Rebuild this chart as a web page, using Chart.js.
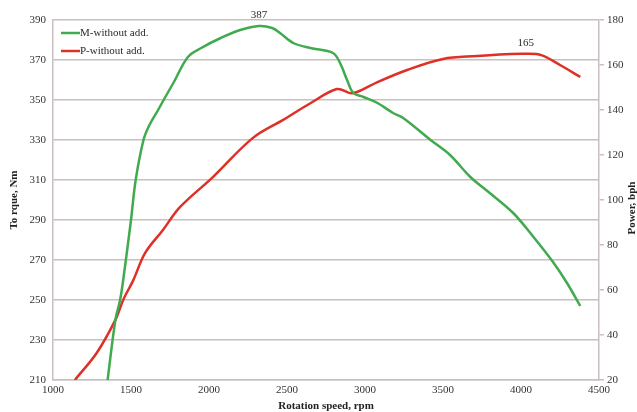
<!DOCTYPE html>
<html>
<head>
<meta charset="utf-8">
<style>
  html, body { margin: 0; padding: 0; background: #ffffff; }
  #wrap { width: 637px; height: 412px; position: relative; }
</style>
<script src="https://cdn.jsdelivr.net/npm/chart.js@4/dist/chart.umd.min.js"></script>
</head>
<body>
<div id="wrap"><canvas id="chart" width="637" height="412"></canvas></div>
<script>
// Engine speed sampled along the torque curve, rpm
const rpmTorque = [1350, 1400, 1430, 1450, 1500, 1530, 1580, 1615, 1670, 1720, 1775, 1865, 1950, 2075, 2200, 2320, 2405, 2455, 2540, 2650, 2795, 2840, 2885, 2925, 2990, 3080, 3180, 3245, 3420, 3545, 3675, 3800, 3950, 4080, 4205, 4295, 4380];
// Torque without additive, Nm
const torque = [210, 240, 250, 260, 290, 310, 330, 337, 344.5, 351.5, 359, 371.5, 376, 381, 385, 387, 386, 383.5, 378.5, 376, 373.5, 368.5, 360, 353.5, 351.5, 348.5, 343.5, 341, 330, 322.5, 311.5, 303.5, 293.5, 281.5, 269, 258.5, 247];

// Engine speed sampled along the power curve, rpm
const rpmPower = [1140, 1280, 1400, 1450, 1515, 1590, 1705, 1815, 2025, 2280, 2475, 2650, 2820, 2905, 2950, 3080, 3270, 3500, 3720, 3900, 4030, 4130, 4250, 4380];
// Power without additive, bph
const power = [20, 32, 46.7, 55.6, 64.4, 76.4, 86.7, 96.9, 110.2, 127.5, 135.6, 143, 149.3, 147.5, 148, 152.4, 157.8, 162.7, 164, 164.8, 165, 164.4, 160, 154.7];

const seriesNames = ['M-without add.', 'P-without add.'];
const xTicks = [1000, 1500, 2000, 2500, 3000, 3500, 4000, 4500];
const torqueTicks = [210, 230, 250, 270, 290, 310, 330, 350, 370, 390];
const powerTicks = [20, 40, 60, 80, 100, 120, 140, 160, 180];
const powerTitle = 'Power, bph';

const GREEN = 'rgb(64,170,78)';
const RED = 'rgb(222,48,38)';
const GRID = 'rgb(200,192,190)';
const FONT = '"Liberation Serif", "Times New Roman", serif';

const toPoints = (xs, ys) => xs.map((x, i) => ({ x: x, y: ys[i] }));
const plain = v => String(v);

// Inline legend at the top-left corner of the plot
const insideLegend = {
  id: 'insideLegend',
  afterDraw(chart) {
    const { ctx, chartArea } = chart;
    ctx.save();
    ctx.font = '11px ' + FONT;
    ctx.textBaseline = 'middle';
    chart.data.datasets.forEach((ds, i) => {
      const y = chartArea.top + 13 + i * 18;
      const x0 = chartArea.left + 8;
      ctx.strokeStyle = ds.borderColor;
      ctx.lineWidth = 2.5;
      ctx.beginPath();
      ctx.moveTo(x0, y);
      ctx.lineTo(x0 + 19, y);
      ctx.stroke();
      ctx.fillStyle = '#2a2a2a';
      ctx.textAlign = 'left';
      ctx.fillText(ds.label, x0 + 19, y);
    });
    ctx.restore();
  }
};

// Value label above the maximum of each series
const peakLabels = {
  id: 'peakLabels',
  afterDatasetsDraw(chart) {
    const { ctx } = chart;
    ctx.save();
    ctx.font = '11px ' + FONT;
    ctx.fillStyle = '#2a2a2a';
    ctx.textAlign = 'center';
    ctx.textBaseline = 'bottom';
    chart.data.datasets.forEach((ds, i) => {
      let best = 0;
      ds.data.forEach((p, j) => { if (p.y > ds.data[best].y) best = j; });
      const el = chart.getDatasetMeta(i).data[best];
      ctx.fillText(String(ds.data[best].y), el.x, el.y - 5);
    });
    ctx.restore();
  }
};

// Right-hand axis title, read bottom to top like the left one
const rightTitle = {
  id: 'rightTitle',
  afterDraw(chart) {
    const { ctx, chartArea } = chart;
    const s = chart.scales.y1;
    ctx.save();
    ctx.translate(s.right - 5, (chartArea.top + chartArea.bottom) / 2 + 8);
    ctx.rotate(-Math.PI / 2);
    ctx.font = 'bold 11px ' + FONT;
    ctx.fillStyle = '#222';
    ctx.textAlign = 'center';
    ctx.textBaseline = 'middle';
    ctx.fillText(powerTitle, 0, 0);
    ctx.restore();
  }
};

new Chart(document.getElementById('chart'), {
  type: 'line',
  data: {
    datasets: [
      {
        label: seriesNames[0],
        data: toPoints(rpmTorque, torque),
        yAxisID: 'y',
        borderColor: GREEN,
        borderWidth: 2.5,
        pointRadius: 0,
        tension: 0.35,
        fill: false
      },
      {
        label: seriesNames[1],
        data: toPoints(rpmPower, power),
        yAxisID: 'y1',
        borderColor: RED,
        borderWidth: 2.5,
        pointRadius: 0,
        tension: 0.35,
        fill: false
      }
    ]
  },
  options: {
    responsive: false,
    animation: false,
    layout: { padding: { top: 20, left: 0, right: 0, bottom: 0 } },
    plugins: {
      legend: { display: false },
      tooltip: { enabled: false }
    },
    scales: {
      x: {
        type: 'linear',
        min: xTicks[0],
        max: xTicks[xTicks.length - 1],
        afterBuildTicks(scale) { scale.ticks = xTicks.map(v => ({ value: v })); },
        afterFit(scale) { scale.height = 32; },
        grid: { display: false, drawTicks: false },
        border: { display: true, color: GRID, width: 1.5 },
        ticks: { padding: 4, color: '#333', font: { family: FONT, size: 11 }, maxRotation: 0, callback: plain },
        title: {
          display: true,
          text: 'Rotation speed, rpm',
          color: '#222',
          padding: 0,
          font: { family: FONT, size: 11, weight: 'bold', lineHeight: 1 }
        }
      },
      y: {
        position: 'left',
        min: torqueTicks[0],
        max: torqueTicks[torqueTicks.length - 1],
        afterBuildTicks(scale) { scale.ticks = torqueTicks.map(v => ({ value: v })); },
        afterFit(scale) { scale.width = 53; },
        grid: { color: GRID, lineWidth: 1.5, drawTicks: false },
        border: { display: true, color: GRID, width: 1.5 },
        ticks: { padding: 7, color: '#333', font: { family: FONT, size: 11 }, callback: plain },
        title: {
          display: true,
          text: 'To rque, Nm',
          color: '#222',
          padding: { top: 8, bottom: 0 },
          font: { family: FONT, size: 11, weight: 'bold' }
        }
      },
      y1: {
        position: 'right',
        min: powerTicks[0],
        max: powerTicks[powerTicks.length - 1],
        afterBuildTicks(scale) { scale.ticks = powerTicks.map(v => ({ value: v })); },
        afterFit(scale) { scale.width = 38; },
        grid: { drawOnChartArea: false, drawTicks: true, tickLength: 5, color: GRID, lineWidth: 1.5 },
        border: { display: true, color: GRID, width: 1.5 },
        ticks: { padding: 3, color: '#333', font: { family: FONT, size: 11 }, callback: plain },
        title: { display: false }
      }
    }
  },
  plugins: [insideLegend, peakLabels, rightTitle]
});
</script>
</body>
</html>
